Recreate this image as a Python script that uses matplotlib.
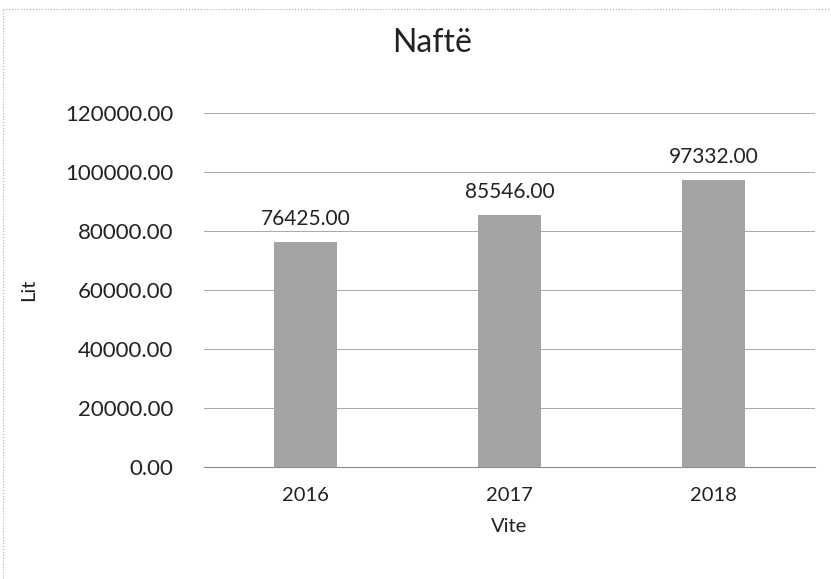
import matplotlib
matplotlib.use("Agg")
import matplotlib.pyplot as plt
from matplotlib.ticker import FuncFormatter

plt.rcParams['font.family'] = ['Lato', 'DejaVu Sans']

# data
years = ["2016", "2017", "2018"]
values = [76425.00, 85546.00, 97332.00]
y_ticks = [0, 20000, 40000, 60000, 80000, 100000, 120000]

fig = plt.figure(figsize=(8.31, 5.79), dpi=100)
ax = fig.add_axes([0.245, 0.193, 0.736, 0.612])

x = range(len(years))
bars = ax.bar(x, values, width=0.31, color='#a3a3a3', zorder=3)
for b, v in zip(bars, values):
    ax.text(b.get_x() + b.get_width() / 2, v + 4200, f"{v:.2f}",
            ha='center', va='bottom', fontsize=15, color='#222222')

ax.set_xticks(list(x))
ax.set_xticklabels(years)
ax.set_xlim(-0.5, len(years) - 0.5)
ax.set_ylim(0, 120000)
ax.set_yticks(y_ticks)
ax.yaxis.set_major_formatter(FuncFormatter(lambda v, p: f"{v:.2f}"))
ax.grid(axis='y', color='#a8a8a8', linewidth=0.7, zorder=0)
for s in ['top', 'right', 'left']:
    ax.spines[s].set_visible(False)
ax.spines['bottom'].set_color('#8a8a8a')
ax.spines['bottom'].set_linewidth(0.8)
ax.tick_params(axis='both', length=0, colors='#222222')
ax.tick_params(axis='y', pad=22, labelsize=16)
ax.tick_params(axis='x', pad=14, labelsize=14.5)

ax.set_xlabel("Vite", fontsize=14.5, color='#222222', labelpad=10)
ax.set_ylabel("Lit", fontsize=14.5, color='#222222', labelpad=20)
fig.suptitle("Naftë", fontsize=23, color='#222222', x=0.52, y=0.952)

# chart border (left / top edge of the scanned frame)
fig.add_artist(plt.Line2D([0.004, 0.004], [0.0, 0.985], color='#b0b0b0',
                          linewidth=0.8, linestyle=':', transform=fig.transFigure))
fig.add_artist(plt.Line2D([0.004, 1.0], [0.985, 0.985], color='#b0b0b0',
                          linewidth=0.8, linestyle=':', transform=fig.transFigure))

fig.savefig("out.png", dpi=100)
